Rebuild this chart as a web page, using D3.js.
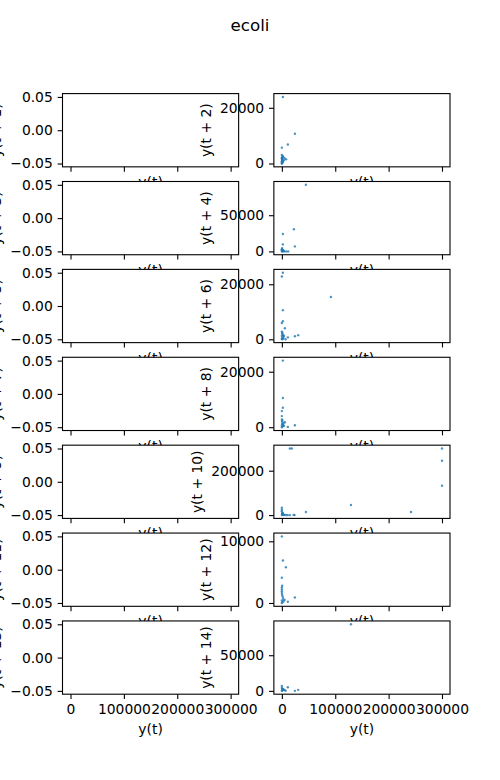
<!DOCTYPE html>
<html>
<head>
<meta charset="utf-8">
<script src="https://cdn.jsdelivr.net/npm/d3@7"></script>
<style>
  body { margin: 0; background: #fff; }
  text { font-family: "DejaVu Sans", sans-serif; }
</style>
</head>
<body>
<svg id="chart"></svg>
<script>
// data: [y(t), y(t + lag)] pairs
// odd lags have no points at all
var title = "ecoli";

var lag2 = [[1900, 23900], [24400, 10700], [11200, 6800], [0, 5700], [0, 3100], [1500, 2700],
  [2500, 2300], [5000, 1900], [8000, 1500], [3500, 1200], [0, 2000], [500, 1600], [1000, 1000],
  [200, 800], [0, 500], [600, 300], [100, 100], [0, 0], [1200, 400], [300, 1300], [2000, 700],
  [0, 1800], [800, 2300]];

var lag4 = [[45000, 92000], [22500, 30600], [1900, 24100], [24400, 6900], [1900, 9700], [500, 4600],
  [4400, 0], [8100, 0], [11900, 0], [0, 3000], [1000, 2000], [2500, 1500], [500, 800], [0, 0],
  [1500, 300], [200, 1200], [3000, 600], [0, 2200]];

var lag6 = [[1900, 24200], [0, 22800], [91900, 15400], [1900, 10600], [1900, 6600], [0, 5900],
  [5600, 4000], [11200, 700], [24400, 1100], [30600, 1500], [6900, 0], [0, 2800], [1000, 2400],
  [500, 2000], [2000, 1600], [0, 1200], [3000, 900], [1000, 500], [0, 200], [2500, 300], [500, 0],
  [4000, 1300]];

var lag8 = [[1900, 24000], [1900, 10500], [1900, 7000], [0, 5800], [0, 4000], [5600, 1800],
  [11200, 100], [24400, 700], [0, 2800], [1000, 2400], [3000, 1500], [500, 1200], [2000, 900],
  [0, 600], [1500, 300], [0, 0], [4000, 500], [200, 2000]];

var lag10 = [[15000, 300000], [18700, 300000], [300000, 300000], [300000, 245000], [300000, 132000],
  [129400, 45500], [45000, 13600], [241900, 13600], [23700, 0], [22000, 1000], [0, 33000],
  [0, 24000], [0, 17000], [1000, 10000], [500, 5000], [2500, 3000], [5000, 1000], [8000, 500],
  [11000, 0], [15000, 0], [3000, 0], [0, 0], [1500, 8000]];

var lag12 = [[0, 10800], [1900, 6900], [7500, 5800], [0, 4100], [0, 2500], [0, 2200], [0, 1900],
  [0, 1600], [500, 1300], [1500, 1000], [2500, 700], [5000, 500], [11200, 200], [24400, 900],
  [0, 400], [1000, 100], [0, 0], [3000, 300], [500, 2800]];

var lag14 = [[129400, 93400], [0, 7000], [11200, 5100], [30600, 1400], [24400, 0], [0, 4000],
  [1000, 3000], [3000, 2000], [5000, 1000], [500, 500], [0, 0], [2000, 2500], [7000, 300],
  [1500, 1500]];

var evenLags = [2, 4, 6, 8, 10, 12, 14];
var evenData = [lag2, lag4, lag6, lag8, lag10, lag12, lag14];
var evenTicks = [[0, 20000], [0, 50000], [0, 20000], [0, 20000], [0, 200000], [0, 10000], [0, 50000]];
var emptyTicks = [-0.05, 0, 0.05];
var xTicks = [0, 100000, 200000, 300000];

// layout (matplotlib-ish subplot grid)
var W = 500, H = 780;
var figLeft = 62.5, figRight = 450, figTop = 93.6, figBottom = 694.2;
var nrows = 7, ncols = 2, space = 0.2;
var axW = (figRight - figLeft) / (ncols + (ncols - 1) * space),
    axH = (figBottom - figTop) / (nrows + (nrows - 1) * space);
var px = 100 / 72, fs = 10 * px, tickLen = 3.5 * px, tickPad = 3.5 * px, labelPad = 4 * px;
var blue = "#1f77b4";

var svg = d3.select("#chart").attr("width", W).attr("height", H);

svg.append("text")
    .attr("x", W / 2).attr("y", 30.5)
    .attr("text-anchor", "middle")
    .style("font-size", (12 * px) + "px")
    .text(title);

function padded(lo, hi) {
    var r = hi - lo;
    return [lo - 0.05 * r, hi + 0.05 * r];
}

var allX = [];
evenData.forEach(function(d) { d.forEach(function(p) { allX.push(p[0]); }); });
var x = d3.scaleLinear().domain(padded(d3.min(allX), d3.max(allX))).range([0, axW]);

var clipId = 0;

function drawPanel(row, col, lag, pts, yTickVals, yFmt) {
    var x0 = figLeft + col * axW * (1 + space),
        y0 = figTop + row * axH * (1 + space);

    var y;
    if (pts.length) {
        y = d3.scaleLinear().domain(padded(d3.min(pts, function(d) { return d[1]; }),
                                           d3.max(pts, function(d) { return d[1]; }))).range([axH, 0]);
    } else {
        y = d3.scaleLinear().domain([-0.055, 0.055]).range([axH, 0]);
    }

    var g = svg.append("g").attr("transform", "translate(" + x0 + "," + y0 + ")");

    g.append("rect").attr("width", axW).attr("height", axH).attr("fill", "#fff");

    var cid = "clip" + (clipId++);
    g.append("clipPath").attr("id", cid)
        .append("rect").attr("width", axW).attr("height", axH);

    g.append("g").attr("clip-path", "url(#" + cid + ")")
        .selectAll("circle")
        .data(pts)
        .enter()
        .append("circle")
        .attr("cx", function(d) { return x(d[0]); })
        .attr("cy", function(d) { return y(d[1]); })
        .attr("r", 1.2)
        .attr("fill", blue)
        .attr("fill-opacity", 0.8);

    var yAxis = d3.axisLeft(y)
        .tickValues(yTickVals)
        .tickSize(tickLen)
        .tickPadding(tickPad)
        .tickFormat(yFmt);

    var gy = g.append("g").call(yAxis);

    var isBottom = row === nrows - 1;
    var xAxis = d3.axisBottom(x)
        .tickValues(xTicks)
        .tickSize(tickLen)
        .tickPadding(tickPad)
        .tickFormat(isBottom ? d3.format("d") : "");

    var gx = g.append("g").attr("transform", "translate(0," + axH + ")").call(xAxis);

    [gx, gy].forEach(function(a) {
        a.select(".domain").remove();
        a.attr("font-family", null).attr("font-size", null);
        a.selectAll("line").attr("stroke", "#000").attr("stroke-width", 1.1);
        a.selectAll("text").attr("fill", "#000").style("font-size", fs + "px");
    });
    gx.selectAll("text").attr("dy", "0.76em");

    g.append("rect")
        .attr("width", axW).attr("height", axH)
        .attr("fill", "none").attr("stroke", "#000").attr("stroke-width", 1.1);

    // widest tick label decides where the y label sits
    var maxW = 0;
    gy.selectAll("text").each(function() { maxW = Math.max(maxW, this.getComputedTextLength()); });
    var lx = -tickLen - tickPad - maxW - labelPad - 0.236 * fs;

    g.append("text")
        .attr("transform", "translate(" + lx + "," + (axH / 2) + ") rotate(-90)")
        .attr("text-anchor", "middle")
        .style("font-size", fs + "px")
        .text("y(t + " + lag + ")");

    g.append("text")
        .attr("x", axW / 2)
        .attr("y", axH + (isBottom ? 39.7 : 20))
        .attr("text-anchor", "middle")
        .style("font-size", fs + "px")
        .text("y(t)");
}

for (var r = 0; r < nrows; r++) {
    drawPanel(r, 0, 2 * r + 1, [], emptyTicks, d3.format(".2f"));
    drawPanel(r, 1, evenLags[r], evenData[r], evenTicks[r], d3.format("d"));
}
</script>
</body>
</html>
